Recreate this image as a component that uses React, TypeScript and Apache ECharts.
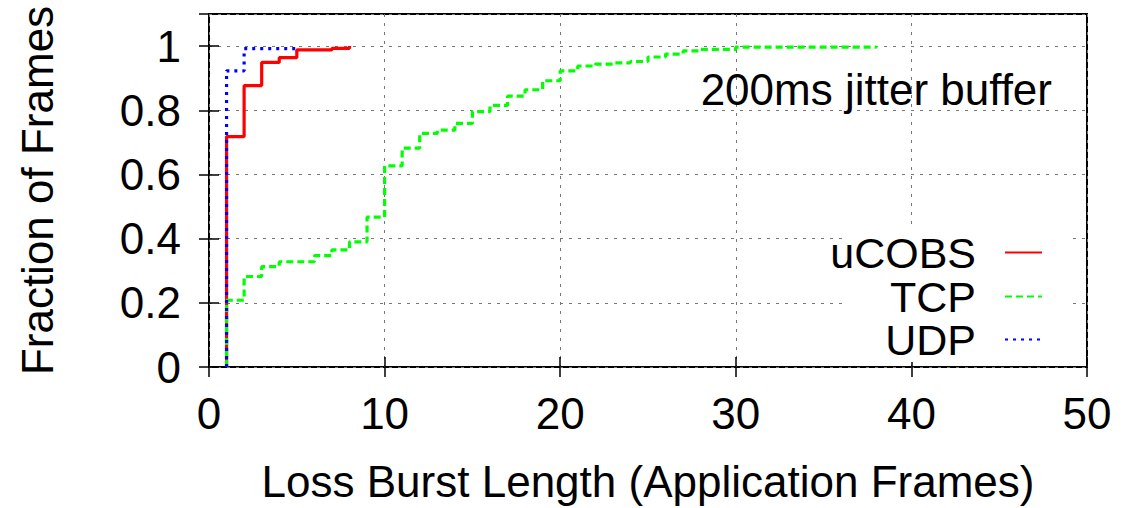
import React, { useEffect, useRef } from "react";
import * as echarts from "echarts";

// Loss burst length (application frames) vs. cumulative fraction of frames
const ucobsPoints: [number, number][] = [
  [1, 0], [1, 0.718], [2, 0.877], [3, 0.949], [4, 0.964], [5, 0.988], [7, 0.993], [8, 1.0],
];
const tcpPoints: [number, number][] = [
  [1, 0], [1, 0.208], [2, 0.282], [3, 0.313], [4, 0.328], [6, 0.347], [7, 0.365], [8, 0.39],
  [9, 0.467], [10, 0.627], [11, 0.682], [12, 0.728], [13, 0.738], [14, 0.759], [15, 0.796],
  [16, 0.815], [17, 0.844], [18, 0.864], [19, 0.892], [20, 0.923], [21, 0.938], [22, 0.944],
  [23, 0.948], [24, 0.952], [25, 0.966], [26, 0.975], [27, 0.985], [28, 0.99], [30, 0.997],
  [38, 1.0],
];
const udpPoints: [number, number][] = [
  [1, 0], [1, 0.923], [2, 0.992], [5, 1.0],
];

const seriesNames = ["uCOBS", "TCP", "UDP"];
const seriesColors = ["#ff0000", "#00ff00", "#0000ff"];
const xTitle = "Loss Burst Length (Application Frames)";
const yTitle = "Fraction of Frames";
const annotation = "200ms jitter buffer";

const FONT = "'Liberation Sans', Arial, Helvetica, sans-serif";
const FS = 44;

export default function App() {
  const ref = useRef<HTMLDivElement>(null);

  useEffect(() => {
    if (!ref.current) return;
    const chart = echarts.init(ref.current, undefined, { renderer: "svg" });

    const gridLine = { show: true, lineStyle: { color: "#777", width: 1, type: [3, 6] as number[] } };
    const tickIn = { show: true, inside: true, length: 10, lineStyle: { color: "#000", width: 1.5 } };

    const lineTypes: any[] = ["solid", [7, 4], [3, 5]];
    const datasets = [ucobsPoints, tcpPoints, udpPoints];

    const legendTops = [231, 275, 318];

    chart.setOption({
      animation: false,
      textStyle: { fontFamily: FONT },
      grid: {
        left: 209, right: 41, top: 14, bottom: 136,
        show: true, borderColor: "#000", borderWidth: 2, backgroundColor: "transparent",
      },
      xAxis: [
        {
          type: "value", min: 0, max: 50, interval: 10,
          axisLine: { show: false },
          axisTick: tickIn,
          splitLine: gridLine,
          axisLabel: { fontSize: FS, color: "#000", margin: 24, fontFamily: FONT },
          name: xTitle, nameLocation: "middle", nameGap: 92,
          nameTextStyle: { fontSize: FS, color: "#000", fontFamily: FONT },
        },
        {
          type: "value", min: 0, max: 50, interval: 10, position: "top",
          axisLine: { show: false }, axisTick: tickIn, axisLabel: { show: false },
          splitLine: { show: false },
        },
      ],
      yAxis: [
        {
          type: "value", min: 0, max: 1.1, interval: 0.2,
          axisLine: { show: false },
          axisTick: tickIn,
          splitLine: gridLine,
          axisLabel: { fontSize: FS, color: "#000", margin: 28, showMaxLabel: false, fontFamily: FONT },
          name: yTitle, nameLocation: "middle", nameGap: 150,
          nameTextStyle: { fontSize: 44, color: "#000", fontFamily: FONT },
        },
        {
          type: "value", min: 0, max: 1.1, interval: 0.2, position: "right",
          axisLine: { show: false }, axisTick: tickIn, axisLabel: { show: false },
          splitLine: { show: false },
        },
      ],
      legend: seriesNames.map((name, i) => ({
        data: [name],
        orient: "vertical",
        align: "right",
        right: 85,
        top: legendTops[i],
        padding: 0,
        itemWidth: 37,
        itemHeight: 14,
        selectedMode: false,
        itemStyle: { opacity: 0 },
        textStyle: {
          fontSize: 43, lineHeight: 36, color: "#000", fontFamily: FONT,
          padding: [0, 24, 0, 0],
        },
      })),
      graphic: [
        {
          type: "rect", z: 1, silent: true,
          shape: { x: 848, y: 228, width: 220, height: 134 },
          style: { fill: "#fff" },
        },
        {
          type: "text", z: 5, x: 1052, y: 89,
          style: {
            text: annotation, fontSize: FS, fontFamily: FONT, fill: "#000",
            textAlign: "right", textVerticalAlign: "middle",
          },
        },
      ],
      series: datasets.map((data, i) => ({
        name: seriesNames[i],
        type: "line",
        step: "end",
        data,
        symbol: "none",
        z: 3,
        color: seriesColors[i],
        lineStyle: { color: seriesColors[i], width: 3.2, type: lineTypes[i] },
      })),
    });

    return () => chart.dispose();
  }, []);

  return (
    <div
      ref={ref}
      style={{ position: "fixed", left: 0, top: 0, width: 1128, height: 508, background: "#fff" }}
    />
  );
}
